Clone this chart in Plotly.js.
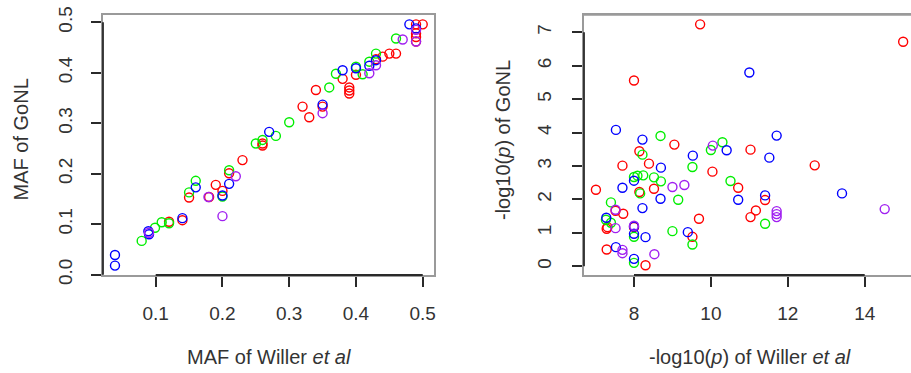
<!DOCTYPE html>
<html>
<head>
<meta charset="utf-8">
<script src="https://cdn.plot.ly/plotly-3.0.1.min.js"></script>
<style>
html,body{margin:0;padding:0;background:#fff;overflow:hidden;}
#chart{width:911px;height:373px;}
</style>
</head>
<body>
<div id="chart"></div>
<script>
// ---- Left panel: MAF of Willer et al (x) vs MAF of GoNL (y)
const mafRedX = [0.12, 0.14, 0.15, 0.18, 0.19, 0.20, 0.21, 0.23, 0.26, 0.26, 0.32, 0.33, 0.34, 0.35, 0.38, 0.39, 0.39, 0.39, 0.40, 0.43, 0.44, 0.45, 0.46, 0.49, 0.50, 0.49, 0.49, 0.49];
const mafRedY = [0.105, 0.108, 0.153, 0.154, 0.178, 0.166, 0.201, 0.227, 0.260, 0.256, 0.333, 0.312, 0.366, 0.333, 0.388, 0.371, 0.365, 0.359, 0.396, 0.427, 0.432, 0.438, 0.438, 0.496, 0.496, 0.478, 0.471, 0.462];
const mafGreenX = [0.079, 0.099, 0.109, 0.12, 0.15, 0.16, 0.20, 0.21, 0.25, 0.26, 0.28, 0.30, 0.36, 0.37, 0.40, 0.41, 0.42, 0.43, 0.46];
const mafGreenY = [0.067, 0.093, 0.104, 0.102, 0.163, 0.186, 0.155, 0.207, 0.260, 0.267, 0.275, 0.302, 0.371, 0.398, 0.412, 0.397, 0.422, 0.438, 0.468];
const mafBlueX = [0.039, 0.039, 0.089, 0.090, 0.14, 0.16, 0.20, 0.21, 0.27, 0.35, 0.38, 0.40, 0.42, 0.43, 0.48, 0.49];
const mafBlueY = [0.039, 0.018, 0.086, 0.080, 0.112, 0.173, 0.157, 0.180, 0.283, 0.337, 0.405, 0.409, 0.414, 0.425, 0.496, 0.488];
const mafPurpleX = [0.09, 0.179, 0.20, 0.22, 0.35, 0.42, 0.43, 0.47, 0.49, 0.49];
const mafPurpleY = [0.083, 0.154, 0.116, 0.195, 0.320, 0.399, 0.415, 0.466, 0.485, 0.462];

// ---- Right panel: -log10(p) of Willer et al (x) vs -log10(p) of GoNL (y)
const pRedX = [9.72, 15.0, 8.0, 9.05, 8.14, 7.70, 8.39, 10.04, 11.03, 12.70, 7.01, 8.14, 8.52, 9.69, 7.52, 7.72, 7.29, 7.31, 8.0, 9.52, 7.29, 8.30, 10.71, 11.41, 11.17, 11.03];
const pRedY = [7.24, 6.72, 5.56, 3.64, 3.44, 3.01, 3.07, 2.83, 3.49, 3.02, 2.29, 2.22, 2.32, 1.42, 1.66, 1.57, 1.12, 1.17, 1.17, 0.88, 0.50, 0.03, 2.35, 1.98, 1.67, 1.47];
const pGreenX = [8.69, 8.22, 10.0, 10.3, 9.52, 8.0, 8.09, 8.24, 8.52, 8.70, 8.16, 7.40, 9.15, 10.51, 11.41, 7.27, 7.40, 9.0, 8.0, 9.52, 8.0];
const pGreenY = [3.90, 3.34, 3.48, 3.71, 2.97, 2.67, 2.71, 2.72, 2.66, 2.54, 2.18, 1.91, 1.99, 2.55, 1.27, 1.39, 1.30, 1.05, 0.88, 0.65, 0.10];
const pBlueX = [11.0, 7.53, 8.22, 9.53, 10.41, 11.71, 11.52, 8.70, 8.0, 7.70, 8.69, 8.22, 10.71, 11.41, 13.41, 7.28, 8.0, 8.30, 9.40, 7.53, 8.0, 8.0];
const pBlueY = [5.80, 4.08, 3.79, 3.31, 3.47, 3.91, 3.25, 2.95, 2.56, 2.35, 2.02, 1.74, 1.99, 2.12, 2.18, 1.45, 0.97, 0.87, 1.02, 0.57, 0.22, 1.19];
const pPurpleX = [10.05, 9.0, 9.31, 7.52, 7.52, 8.0, 7.70, 7.70, 8.53, 11.71, 11.71, 11.71, 14.52];
const pPurpleY = [3.61, 2.37, 2.43, 1.69, 1.14, 1.21, 0.49, 0.39, 0.36, 1.65, 1.56, 1.47, 1.71];

// ---- Tick values / labels
const mafXTicks = [0.1, 0.2, 0.3, 0.4, 0.5];
const mafXTickText = ['0.1', '0.2', '0.3', '0.4', '0.5'];
const mafYTicks = [0.0, 0.1, 0.2, 0.3, 0.4, 0.5];
const mafYTickText = ['0.0', '0.1', '0.2', '0.3', '0.4', '0.5'];
const pXTicks = [8, 10, 12, 14];
const pXTickText = ['8', '10', '12', '14'];
const pYTicks = [0, 1, 2, 3, 4, 5, 6, 7];
const pYTickText = ['0', '1', '2', '3', '4', '5', '6', '7'];

const colors = {red: '#FF0000', green: '#00EE00', blue: '#0000FF', purple: '#A020F0'};

const W = 911, H = 373;
const TICKLEN = 10;
const tickFont = {family: 'Liberation Sans, Arial, sans-serif', size: 19, color: '#333'};
const titleFont = {family: 'Liberation Sans, Arial, sans-serif', size: 20, color: '#333'};
const frameColor = '#9a9a9a';
const axisColor = '#2a2a2a';

const plotTop = 15, plotBottom = 275, leftL = 103, leftR = 434, rightL = 584;
const dom = {x: [leftL / W, leftR / W], x2: [rightL / W, 1], y: [1 - plotBottom / H, 1 - plotTop / H]};
const rng = {x: [0.02105, 0.5169], y: [-0.0006, 0.5145], x2: [6.70, 15.204], y2: [-0.263, 7.52]};

function series(x, y, color, xa, ya) {
  return {x: x, y: y, xaxis: xa, yaxis: ya, type: 'scatter', mode: 'markers',
    marker: {symbol: 'circle-open', size: 9, color: color, line: {color: color, width: 1.4}},
    hoverinfo: 'skip', showlegend: false};
}

const data = [
  series(mafRedX, mafRedY, colors.red, 'x', 'y'),
  series(mafGreenX, mafGreenY, colors.green, 'x', 'y'),
  series(mafBlueX, mafBlueY, colors.blue, 'x', 'y'),
  series(mafPurpleX, mafPurpleY, colors.purple, 'x', 'y'),
  series(pRedX, pRedY, colors.red, 'x2', 'y2'),
  series(pGreenX, pGreenY, colors.green, 'x2', 'y2'),
  series(pBlueX, pBlueY, colors.blue, 'x2', 'y2'),
  series(pPurpleX, pPurpleY, colors.purple, 'x2', 'y2')
];

function axisBase(extra) {
  return Object.assign({
    showgrid: false, zeroline: false, showline: true, mirror: true,
    linecolor: frameColor, linewidth: 1.6,
    ticks: 'outside', ticklen: TICKLEN, tickwidth: 2, tickcolor: axisColor,
    tickfont: tickFont, fixedrange: true, automargin: false
  }, extra);
}

const shapes = [
  // dark axis segments spanning first to last tick (R-style axis lines)
  {type: 'line', xref: 'x', yref: 'y domain', x0: mafXTicks[0], x1: mafXTicks[mafXTicks.length - 1], y0: 0, y1: 0, line: {color: axisColor, width: 1.8}},
  {type: 'line', xref: 'x domain', yref: 'y', x0: 0, x1: 0, y0: mafYTicks[0], y1: mafYTicks[mafYTicks.length - 1], line: {color: axisColor, width: 1.8}},
  {type: 'line', xref: 'x2', yref: 'y2 domain', x0: pXTicks[0], x1: pXTicks[pXTicks.length - 1], y0: 0, y1: 0, line: {color: axisColor, width: 1.8}},
  {type: 'line', xref: 'x2 domain', yref: 'y2', x0: 0, x1: 0, y0: pYTicks[0], y1: pYTicks[pYTicks.length - 1], line: {color: axisColor, width: 1.8}},
  // top border of right panel
  {type: 'line', xref: 'x2 domain', yref: 'y2 domain', x0: 0, x1: 1, y0: 1, y1: 1, line: {color: frameColor, width: 1.6}}
];

const layout = {
  width: W, height: H,
  margin: {l: 0, r: 0, t: 0, b: 0},
  paper_bgcolor: '#fff', plot_bgcolor: 'rgba(0,0,0,0)',
  hovermode: false,
  xaxis: axisBase({domain: dom.x, range: rng.x, tickvals: mafXTicks, ticktext: mafXTickText, anchor: 'y', ticklabelstandoff: 11}),
  yaxis: axisBase({domain: dom.y, range: rng.y, tickvals: mafYTicks, ticktext: mafYTickText, anchor: 'x', tickangle: -90, ticklabelstandoff: 12}),
  xaxis2: axisBase({domain: dom.x2, range: rng.x2, tickvals: pXTicks, ticktext: pXTickText, anchor: 'y2', ticklabelstandoff: 11}),
  yaxis2: axisBase({domain: dom.y, range: rng.y2, tickvals: pYTicks, ticktext: pYTickText, anchor: 'x2', tickangle: -90, mirror: false, ticklabelstandoff: 14}),
  shapes: shapes,
  annotations: [
    {text: 'MAF of Willer <i>et al</i>', xref: 'paper', yref: 'paper', x: 269 / W, y: 1 - 357 / H, showarrow: false, font: titleFont, xanchor: 'center', yanchor: 'middle'},
    {text: 'MAF of GoNL', xref: 'paper', yref: 'paper', x: 20.5 / W, y: 1 - 140 / H, showarrow: false, font: titleFont, textangle: -90, xanchor: 'center', yanchor: 'middle'},
    {text: '-log10(<i>p</i>) of Willer <i>et al</i>', xref: 'paper', yref: 'paper', x: 750 / W, y: 1 - 357 / H, showarrow: false, font: titleFont, xanchor: 'center', yanchor: 'middle'},
    {text: '-log10(<i>p</i>) of GoNL', xref: 'paper', yref: 'paper', x: 503 / W, y: 1 - 140 / H, showarrow: false, font: titleFont, textangle: -90, xanchor: 'center', yanchor: 'middle'}
  ]
};

Plotly.newPlot('chart', data, layout, {displayModeBar: false, staticPlot: true});
</script>
</body>
</html>
